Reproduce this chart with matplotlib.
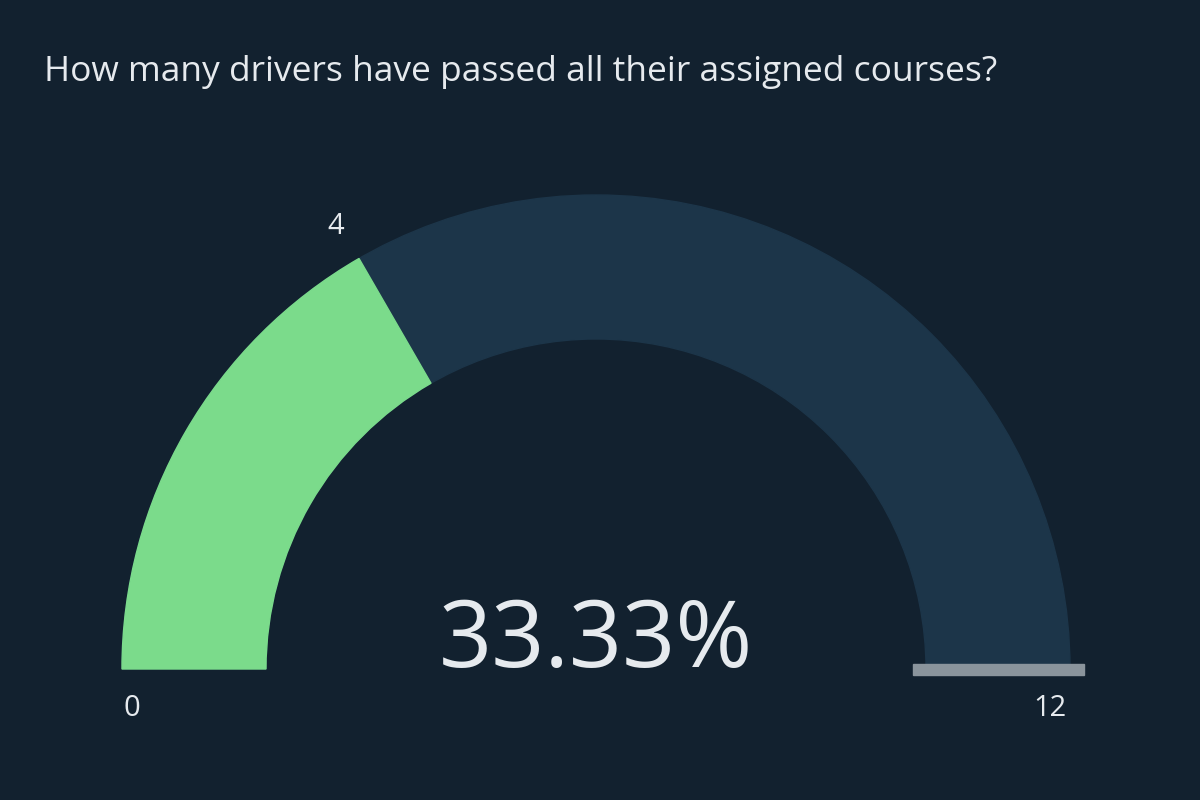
import matplotlib.pyplot as plt
from matplotlib.patches import Wedge, Rectangle

title = "How many drivers have passed all their assigned courses?"
value = 4
target = 12
gauge_min = 0
gauge_max = 12

bg = "#12212f"
track = "#1c3549"
fill = "#7bdb8b"
txt = "#e6eaee"

fig = plt.figure(figsize=(12, 8), dpi=100)
fig.set_facecolor(bg)
ax = fig.add_axes([0, 0, 1, 1])
ax.set_facecolor(bg)
ax.set_xlim(0, 1200)
ax.set_ylim(800, 0)
ax.axis("off")

cx, cy, r_out, width = 596, 669, 474, 144


def angle(v):
    return 180 - 180 * (v - gauge_min) / (gauge_max - gauge_min)


# y axis is flipped, so angles mirror: use negative angles
ax.add_patch(Wedge((cx, cy), r_out, -180, 0, width=width, color=track))
ax.add_patch(Wedge((cx, cy), r_out, -180, -angle(value), width=width, color=fill))

# target marker
ax.add_patch(Rectangle((913, 664), 171, 11, color="#8a949c"))

pct = value / target * 100
ax.text(cx, 643, f"{pct:.2f}%", color=txt, fontsize=67, ha="center", va="center",
        family="Open Sans")
ax.text(44, 72, title, color=txt, fontsize=25.5, ha="left", va="center", family="Open Sans")
ax.text(132, 708, str(gauge_min), color=txt, fontsize=21, ha="center", va="center",
        family="Open Sans")
ax.text(1050, 708, str(gauge_max), color=txt, fontsize=21, ha="center", va="center",
        family="Open Sans")
ax.text(336, 226, str(value), color=txt, fontsize=21, ha="center", va="center",
        family="Open Sans")

fig.savefig("out.png", facecolor=bg)
